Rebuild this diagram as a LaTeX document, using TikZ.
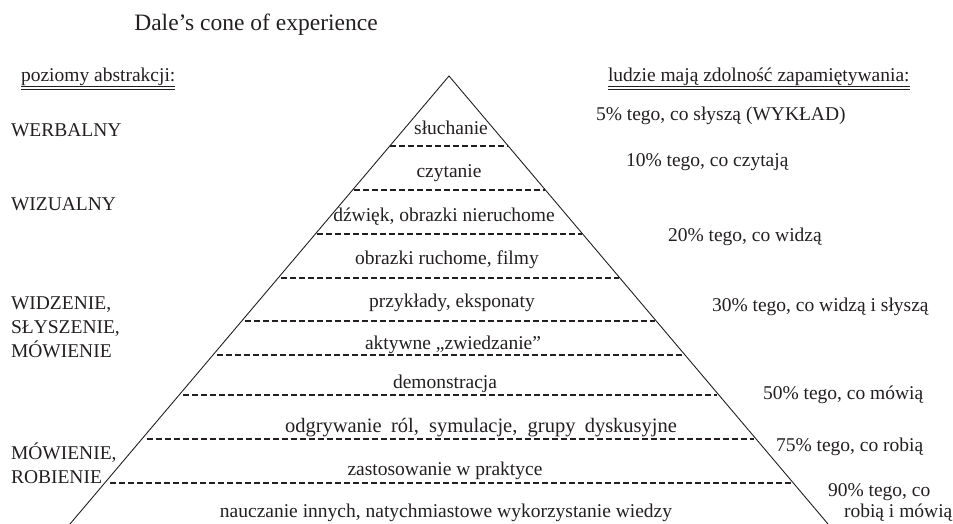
\documentclass[tikz,border=0pt]{standalone}
\usepackage{fontspec}
\setmainfont{Liberation Serif}
\usetikzlibrary{calc}
\definecolor{ink}{HTML}{231F20}
\tikzset{
  txt/.style={inner sep=0pt, outer sep=0pt, font=\fontsize{19.5}{24}\selectfont, text=ink},
  lefttxt/.style={txt, anchor=base west, align=left},
  midtxt/.style={txt, anchor=base},
  titletxt/.style={inner sep=0pt, anchor=base, font=\fontsize{23.5}{28}\selectfont, text=ink},
  coneline/.style={draw=ink, line width=0.9pt},
  levelline/.style={draw=ink, line width=1.7pt, dash pattern=on 6pt off 3pt},
  uline/.style={draw=ink, line width=0.8pt}
}
\begin{document}
\begin{tikzpicture}[x=1pt, y=-1pt]
\useasboundingbox (0,0) rectangle (953,524);
% title
\node[titletxt] (title) at (256,31) {Dale’s cone of experience};
% headers
\node[lefttxt] (hl) at (21,82) {poziomy abstrakcji:};
\node[lefttxt] (hr) at (608,82) {ludzie mają zdolność zapamiętywania:};
\draw[uline] ([yshift=-4.5pt]hl.base west) -- ([yshift=-4.5pt]hl.base east);
\draw[uline] ([yshift=-7pt]hl.base west) -- ([yshift=-7pt]hl.base east);
\draw[uline] ([yshift=-4.5pt]hr.base west) -- ([yshift=-4.5pt]hr.base east);
\draw[uline] ([yshift=-7pt]hr.base west) -- ([yshift=-7pt]hr.base east);
% cone
\coordinate (apex) at (449,76);
\coordinate (bl) at (70,524);
\coordinate (br) at (828,524);
\draw[coneline] (bl) -- (apex) -- (br);
% level lines
\foreach \t [count=\i] in {0.15625,0.2545,0.3527,0.4509,0.5469,0.6228,0.7121,0.8103,0.9085}{
  \coordinate (l\i) at ($(apex)!\t!(bl)$);
  \coordinate (r\i) at ($(apex)!\t!(br)$);
  \draw[levelline] ([xshift=\i*0.6pt]l\i) -- ([xshift=-\i*0.3pt]r\i);
}
% cone labels
\node[midtxt] (c1) at (451,135) {słuchanie};
\node[midtxt] (c2) at (449,177) {czytanie};
\node[midtxt] (c3) at (444,221) {dźwięk, obrazki nieruchome};
\node[midtxt] (c4) at (447,264) {obrazki ruchome, filmy};
\node[midtxt] (c5) at (452,307) {przykłady, eksponaty};
\node[midtxt] (c6) at (453,349) {aktywne „zwiedzanie”};
\node[midtxt] (c7) at (445,388) {demonstracja};
\node[midtxt, font=\fontsize{20.5}{24}\selectfont] (c8) at (481,432) {\makebox[392pt][s]{odgrywanie ról, symulacje, grupy dyskusyjne}};
\node[midtxt] (c9) at (445,475) {zastosowanie w praktyce};
\node[midtxt] (c10) at (446,517) {nauczanie innych, natychmiastowe wykorzystanie wiedzy};
% left column
\node[lefttxt] (a1) at (11,136) {WERBALNY};
\node[lefttxt] (a2) at (11,210) {WIZUALNY};
\node[lefttxt] (a3) at (11,357) {WIDZENIE,\\SŁYSZENIE,\\MÓWIENIE};
\node[lefttxt] (a4) at (11,483) {MÓWIENIE,\\ROBIENIE};
% right column
\node[lefttxt] (p1) at (596,121) {5\% tego, co słyszą (WYKŁAD)};
\node[lefttxt] (p2) at (626,166) {10\% tego, co czytają};
\node[lefttxt] (p3) at (668,241) {20\% tego, co widzą};
\node[lefttxt] (p4) at (712,311) {30\% tego, co widzą i słyszą};
\node[lefttxt] (p5) at (763,399) {50\% tego, co mówią};
\node[lefttxt] (p6) at (776,451) {75\% tego, co robią};
\node[lefttxt] (p7) at (828,496) {90\% tego, co};
\node[lefttxt] (p8) at (844,517) {robią i mówią};
\end{tikzpicture}
\end{document}
